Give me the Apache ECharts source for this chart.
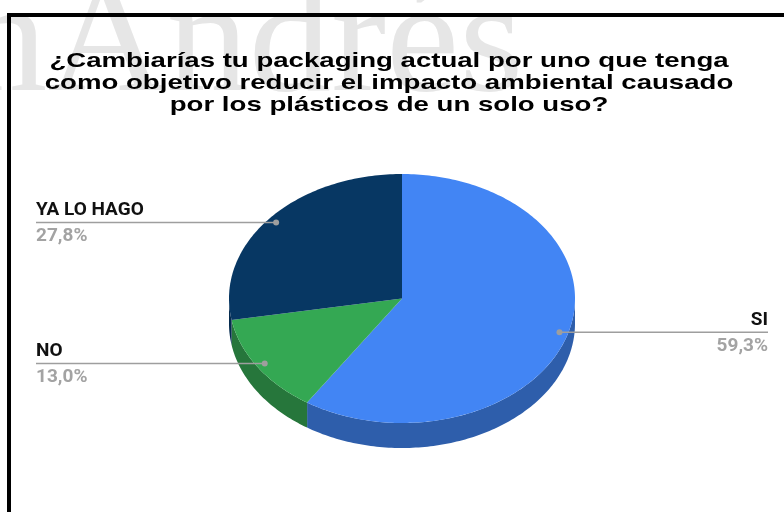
<!DOCTYPE html>
<html>
<head>
<meta charset="utf-8">
<script src="https://cdn.jsdelivr.net/npm/echarts@6/dist/echarts.min.js"></script>
<style>
  html, body { margin: 0; padding: 0; background: #fff; }
  #chart { width: 784px; height: 512px; }
</style>
</head>
<body>
<div id="chart"></div>
<script>
// Survey answers and their shares (%)
const categories = ['SI', 'NO', 'YA LO HAGO'];
const values = [59.3, 13.0, 27.8];
const titleLines = [
  '¿Cambiarías tu packaging actual por uno que tenga',
  'como objetivo reducir el impacto ambiental causado',
  'por los plásticos de un solo uso?'
];
const watermarkText = 'nAndrés';

const topColors = ['#4285F4', '#34A853', '#073763'];
const sideColors = ['#2E5EAB', '#26763B', '#052B4E'];

// Tilted (elliptical) pie geometry
const PIE = { cx: 402, cy: 298.5, rx: 173, ry: 124.5, depth: 25 };
const LABEL_LEFT_X = 36;
const LABEL_RIGHT_X = 768;

const total = values.reduce((a, b) => a + b, 0);
const starts = [];
let acc = 0;
values.forEach(v => { starts.push(acc); acc += v; });

// angle in degrees, clockwise from 12 o'clock
function pt(deg, k, dy) {
  const r = deg * Math.PI / 180;
  return [PIE.cx + k * PIE.rx * Math.sin(r), PIE.cy - k * PIE.ry * Math.cos(r) + (dy || 0)];
}
function arc(a, b, dy) {
  const n = Math.max(2, Math.ceil(Math.abs(b - a)));
  const out = [];
  for (let i = 0; i <= n; i++) out.push(pt(a + (b - a) * i / n, 1, dy));
  return out;
}
function fmt(v) {
  return v.toFixed(1).replace('.', ',') + '%';
}

function renderItem(params, api) {
  const i = params.dataIndex;
  const v = api.value(1);
  const a0 = api.value(2) / total * 360;
  const a1 = a0 + v / total * 360;
  const children = [];

  // visible rim (front half of the disc)
  const s = Math.max(a0, 90), e = Math.min(a1, 270);
  if (s < e) {
    children.push({
      type: 'polygon',
      shape: { points: arc(s, e, 0).concat(arc(e, s, PIE.depth)) },
      style: { fill: sideColors[i] }
    });
  }
  // top face
  children.push({
    type: 'polygon',
    shape: { points: [[PIE.cx, PIE.cy]].concat(arc(a0, a1, 0)) },
    style: { fill: topColors[i] }
  });

  // leader line, anchor dot and labels
  const mid = (a0 + a1) / 2;
  const p = pt(mid, 0.95, 0);
  const left = mid > 180;
  const lx = left ? LABEL_LEFT_X : LABEL_RIGHT_X;
  children.push({
    type: 'line', z2: 10,
    shape: { x1: p[0], y1: p[1], x2: lx, y2: p[1] },
    style: { stroke: '#9e9e9e', lineWidth: 1.5 }
  });
  children.push({
    type: 'circle', z2: 11,
    shape: { cx: p[0], cy: p[1], r: 3 },
    style: { fill: '#9e9e9e' }
  });
  children.push({
    type: 'text', z2: 12, x: lx, y: p[1] - 12,
    style: {
      text: categories[i], fill: '#111',
      font: 'bold 19px Roboto', align: left ? 'left' : 'right', verticalAlign: 'middle'
    }
  });
  children.push({
    type: 'text', z2: 12, x: lx, y: p[1] + 14,
    style: {
      text: fmt(v), fill: '#a3a3a3',
      font: 'bold 19px Roboto', align: left ? 'left' : 'right', verticalAlign: 'middle'
    }
  });
  return { type: 'group', children };
}

const chart = echarts.init(document.getElementById('chart'), null, { renderer: 'canvas' });
chart.setOption({
  backgroundColor: '#fff',
  animation: false,
  graphic: [
    {
      type: 'text', x: -35, y: 48, z: -10, scaleX: 1.03,
      style: {
        text: watermarkText, fill: '#e6e6e6',
        font: '160px "Liberation Serif"', align: 'left', verticalAlign: 'middle'
      }
    },
    {
      type: 'rect', z: 5,
      shape: { x: 9, y: 15, width: 900, height: 600 },
      style: { fill: 'none', stroke: '#000', lineWidth: 4 }
    },
    {
      type: 'text', x: 389, y: 50, z: 6, scaleX: 1.314,
      style: {
        text: titleLines.join('\n'), fill: '#000',
        font: 'bold 21px "Liberation Sans"', lineHeight: 22,
        align: 'center', verticalAlign: 'top'
      }
    }
  ],
  series: [{
    type: 'custom',
    coordinateSystem: 'none',
    renderItem: renderItem,
    data: values.map((v, i) => [i, v, starts[i]])
  }]
});
</script>
</body>
</html>
